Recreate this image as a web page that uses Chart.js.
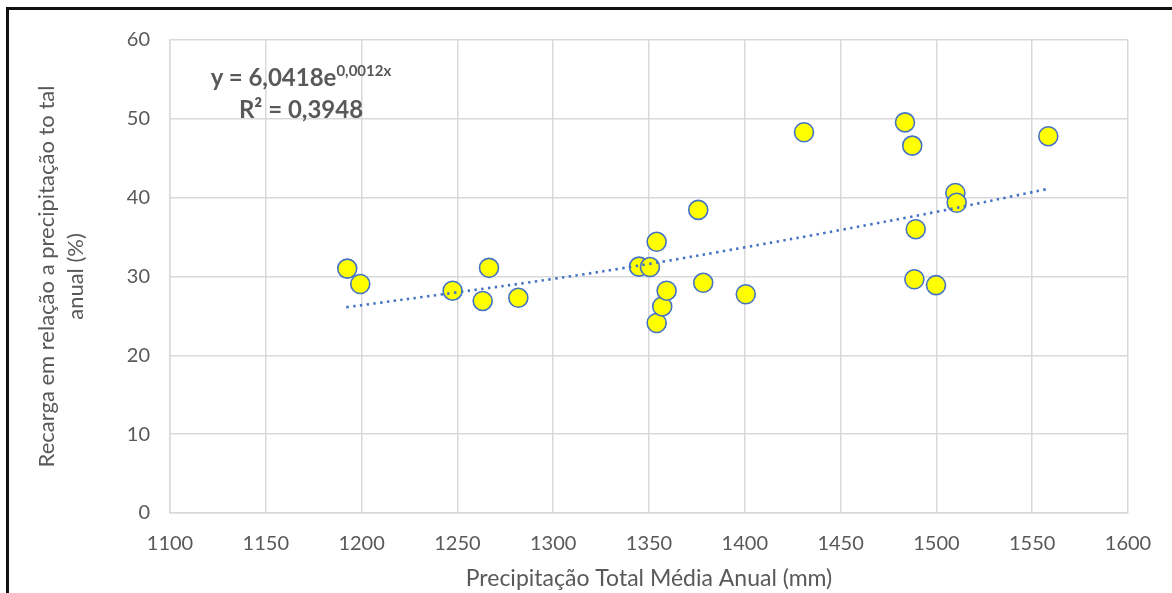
<!DOCTYPE html>
<html lang="pt">
<head>
  <meta charset="UTF-8" />
  <title>Recarga x Precipitação</title>
  <script src="https://cdn.jsdelivr.net/npm/chart.js"></script>
  <style>
    html,body{margin:0;padding:0;background:#fff;overflow:hidden;}
    .wrap{position:relative;width:1172px;height:593px;}
    .frame{position:absolute;left:6px;top:7px;width:1200px;height:620px;
           border:3px solid #111;box-sizing:border-box;pointer-events:none;}
    .eq{position:absolute;left:201px;top:61px;width:200px;text-align:center;
        font:bold 24px Lato,sans-serif;color:#595959;line-height:32px;}
    .eq sup{font-size:15px;line-height:0;vertical-align:10px;}
  </style>
</head>
<body>
  <div class="wrap">
    <canvas id="chart" width="1172" height="593"></canvas>
    <div class="eq">y = 6,0418e<sup>0,0012x</sup><br>R² = 0,3948</div>
    <div class="frame"></div>
  </div>

  <script>
    // precipitação total média anual (mm) x recarga (%)
    const precip  = [1192.5,1199.3,1247.5,1266.5,1263.2,1281.8,1344.8,1350.5,1354.0,1354.0,1356.9,1359.2,
                     1375.7,1378.3,1400.5,1430.9,1483.6,1487.4,1489.2,1488.5,1499.8,1509.9,1510.6,1558.4];
    const recarga = [31.0,29.05,28.2,31.1,26.9,27.3,31.25,31.2,34.4,24.1,26.2,28.2,
                     38.45,29.2,27.75,48.3,49.55,46.6,36.0,29.65,28.9,40.6,39.35,47.8];

    // linha de tendência
    const trendX = [1192,1250,1300,1350,1400,1450,1500,1558];
    const trendY = [26.1,28.0,29.7,31.6,33.7,35.9,38.2,41.1];

    const xTicks = [1100,1150,1200,1250,1300,1350,1400,1450,1500,1550,1600];
    const yTicks = [0,10,20,30,40,50,60];

    const grey='#595959', grid='#D9D9D9', blue='#4472C4';
    const ff='Lato, sans-serif';

    new Chart(document.getElementById('chart'),{
      type:'scatter',
      data:{datasets:[
        {label:'Tendência',order:0,showLine:true,
         data:trendX.map((x,i)=>({x,y:trendY[i]})),
         borderColor:blue,borderWidth:2.6,borderDash:[2.4,4.4],
         pointRadius:0,tension:0.4,fill:false},
        {label:'Recarga',order:1,
         data:precip.map((x,i)=>({x,y:recarga[i]})),
         backgroundColor:'#FFFF00',borderColor:blue,borderWidth:1.6,
         pointRadius:9.5,pointHoverRadius:9.5}
      ]},
      options:{
        responsive:false,animation:false,
        layout:{padding:{top:40,right:44,bottom:0,left:0}},
        plugins:{legend:{display:false},tooltip:{enabled:false}},
        scales:{
          x:{type:'linear',min:1100,max:1600,
             afterBuildTicks:s=>{s.ticks=xTicks.map(v=>({value:v}));},
             afterFit:s=>{s.height=80;},
             grid:{color:grid,lineWidth:1.5,drawTicks:false},
             border:{color:grid,width:1.5},
             ticks:{color:grey,padding:19,font:{family:ff,size:20},callback:v=>String(v)},
             title:{display:true,text:'Precipitação Total Média Anual (mm)',color:grey,
                    font:{family:ff,size:23},padding:{bottom:1}}},
          y:{min:0,max:60,
             afterBuildTicks:s=>{s.ticks=yTicks.map(v=>({value:v}));},
             afterFit:s=>{s.width=170;},
             grid:{color:grid,lineWidth:1.5,drawTicks:false},
             border:{color:grid,width:1.5},
             ticks:{color:grey,padding:20,font:{family:ff,size:20},callback:v=>String(v)},
             title:{display:true,text:['Recarga em relação a precipitação to tal','anual (%)'],
                    color:grey,font:{family:ff,size:22,lineHeight:1.32},padding:{top:32}}}
        }
      }
    });
  </script>
</body>
</html>
